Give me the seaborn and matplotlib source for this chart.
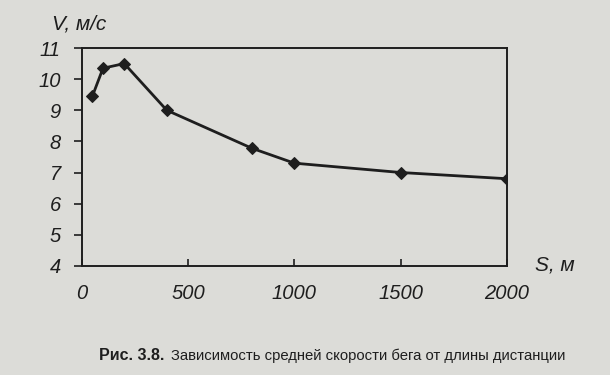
import matplotlib
matplotlib.use("Agg")
import matplotlib.pyplot as plt
import seaborn as sns
import pandas as pd

distance_m = [50, 100, 200, 400, 800, 1000, 1500, 2000]
speed_ms = [9.45, 10.35, 10.5, 9.0, 7.78, 7.3, 7.0, 6.8]
x_ticks = [0, 500, 1000, 1500, 2000]
y_ticks = [4, 5, 6, 7, 8, 9, 10, 11]

sns.set_theme(style="white")
plt.rcParams['font.family'] = ['Liberation Sans', 'DejaVu Sans']

bg = "#dcdcd8"
ink = "#1e1e1e"

fig = plt.figure(figsize=(6.1, 3.75), dpi=100, facecolor=bg)
ax = fig.add_axes([0.134, 0.291, 0.697, 0.581], facecolor=bg)

df = pd.DataFrame({"S": distance_m, "V": speed_ms})
sns.lineplot(data=df, x="S", y="V", ax=ax, color=ink, linewidth=2.0,
             marker="D", markersize=6.5, markeredgecolor=ink, markerfacecolor=ink)

ax.set_xlim(0, 2000)
ax.set_ylim(4, 11)
ax.set_xticks(x_ticks)
ax.set_yticks(y_ticks)
ax.set_xticklabels([str(t) for t in x_ticks], fontsize=14.5, style="italic", color=ink)
ax.set_yticklabels([str(t) for t in y_ticks], fontsize=14.5, style="italic", color=ink)
ax.tick_params(axis="y", left=True, direction="out", length=6, width=1.2, color=ink, pad=9)
ax.tick_params(axis="x", bottom=True, direction="in", length=5, width=1.2, color=ink, pad=13)
ax.set_xlabel("")
ax.set_ylabel("")
for s in ax.spines.values():
    s.set_visible(True)
    s.set_color(ink)
    s.set_linewidth(1.4)

fig.text(0.085, 0.935, "V, м/с", fontsize=15, style="italic", color=ink, ha="left", va="center")
fig.text(0.877, 0.293, "S, м", fontsize=15, style="italic", color=ink, ha="left", va="center")

fig.text(0.163, 0.052, "Рис. 3.8.", fontsize=11.5, fontweight="bold", color=ink, ha="left", va="center")
fig.text(0.280, 0.052, "Зависимость средней скорости бега от длины дистанции",
         fontsize=10.7, color=ink, ha="left", va="center")

fig.savefig("out.png", dpi=100, facecolor=bg)
